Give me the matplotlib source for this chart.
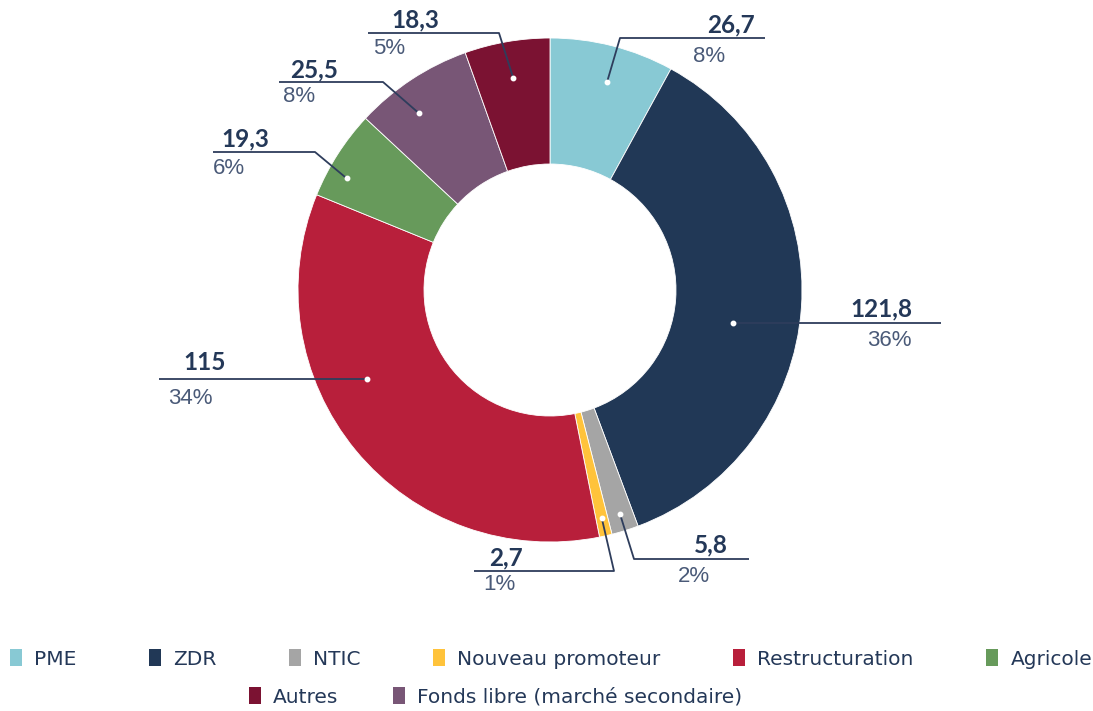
import numpy as np
import matplotlib.pyplot as plt
from matplotlib.patches import Patch

# data (values in the order they appear round the ring, clockwise from the top)
labels = ["PME", "ZDR", "NTIC", "Nouveau promoteur", "Restructuration",
          "Agricole", "Fonds libre (marché secondaire)", "Autres"]
values = [26.7, 121.8, 5.8, 2.7, 115, 19.3, 25.5, 18.3]
value_text = ["26,7", "121,8", "5,8", "2,7", "115", "19,3", "25,5", "18,3"]
colors = ["#88C9D4", "#213856", "#A5A5A5", "#FFC33B", "#B81F3B",
          "#679A5B", "#785676", "#7B1232"]
legend_order = [0, 1, 2, 3, 4, 5, 7, 6]

W, H = 1093, 711
NAVY = "#243858"
GREY = "#4A5A78"
LINE = "#2E3D5C"


def py(y):
    # pixel row -> data y
    return H - y


# label layout: dot (radius frac, angle nudge), elbow px, line end x,
# value text (x, y, ha), pct text (x, y, ha)
layout = [
    dict(r=0.857, da=-1.0, elbow=(620, 38), end=765, val=(755, 25, "right"), pct=(693, 57, "left")),
    dict(r=0.738, da=-6.0, elbow=None, end=941, val=(912, 309, "right"), pct=(912, 340, "right")),
    dict(r=0.933, da=0.0, elbow=(634, 559), end=749, val=(728, 545, "right"), pct=(678, 577, "left")),
    dict(r=0.929, da=0.0, elbow=(614, 571), end=474, val=(489, 558, "left"), pct=(483, 585, "left")),
    dict(r=0.806, da=-13.7, elbow=None, end=159, val=(183, 363, "left"), pct=(168, 398, "left")),
    dict(r=0.921, da=3.8, elbow=(315, 152), end=213, val=(221, 139, "left"), pct=(213, 168, "left")),
    dict(r=0.873, da=3.2, elbow=(383, 82), end=279, val=(290, 70, "left"), pct=(283, 97, "left")),
    dict(r=0.853, da=0.0, elbow=(499, 33), end=368, val=(391, 20, "left"), pct=(373, 48, "left")),
]

fig = plt.figure(figsize=(W / 100, H / 100), dpi=100)
ax = fig.add_axes([0, 0, 1, 1])

R = 252
cx, cy = 550, py(290)
wedges, _ = ax.pie(values, colors=colors, startangle=90, counterclock=False,
                   radius=R, center=(cx, cy),
                   wedgeprops=dict(width=126, edgecolor="white", linewidth=0.6))
ax.set_xlim(0, W)
ax.set_ylim(0, H)
ax.set_aspect("equal")
ax.axis("off")

total = sum(values)
for i, w in enumerate(wedges):
    lo = layout[i]
    ang = np.deg2rad((w.theta1 + w.theta2) / 2 + lo["da"])
    dx = cx + lo["r"] * R * np.cos(ang)
    dy = cy + lo["r"] * R * np.sin(ang)
    if lo["elbow"] is None:
        xs = [dx, lo["end"]]
        ys = [dy, dy]
    else:
        ex, ey = lo["elbow"][0], py(lo["elbow"][1])
        xs = [dx, ex, lo["end"]]
        ys = [dy, ey, ey]
    ax.plot(xs, ys, color=LINE, lw=1.3, solid_capstyle="butt", zorder=3)
    ax.plot(dx, dy, "o", ms=3.2, color="white", zorder=4)

    vx, vy, vha = lo["val"]
    ax.text(vx, py(vy), value_text[i], ha=vha, va="center", fontsize=17.5,
            fontweight="bold", color=NAVY, family="Lato")
    pct = round(values[i] / total * 100)
    px_, py_, pha = lo["pct"]
    ax.text(px_, py(py_), f"{pct}%", ha=pha, va="center", fontsize=16,
            color=GREY, family="Liberation Sans")

handles = [Patch(facecolor=colors[i], edgecolor="none", label=labels[i]) for i in legend_order]
common = dict(frameon=False, borderpad=0, borderaxespad=0, handlelength=0.6,
              handleheight=0.9, handletextpad=0.6,
              prop=dict(family="DejaVu Sans", size=14.5), labelcolor=NAVY)
fig.legend(handles=handles[:6], ncol=6, loc="center left", columnspacing=3.6,
           bbox_to_anchor=(10 / W, 1 - 659 / H), **common)
fig.legend(handles=handles[6:], ncol=2, loc="center left", columnspacing=2.7,
           bbox_to_anchor=(249 / W, 1 - 697 / H), **common)

fig.savefig("out.png", dpi=100)
